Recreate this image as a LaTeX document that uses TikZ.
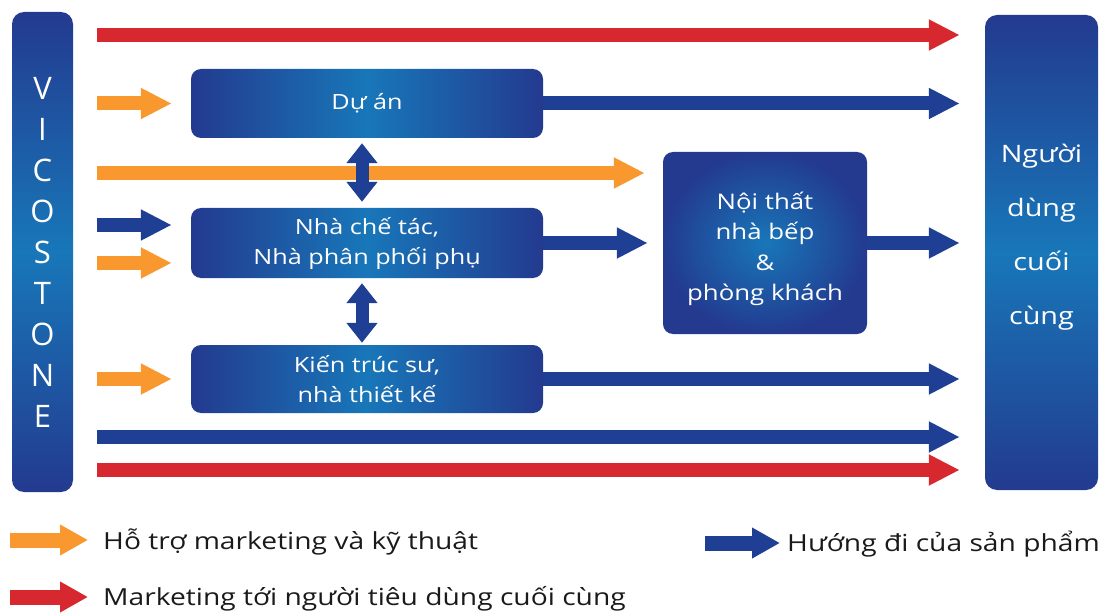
\documentclass[tikz,border=0pt]{standalone}
\usepackage{fontspec}
\setmainfont{Open Sans}
\newfontfamily\wfont[FakeStretch=1.2]{Open Sans}
\usetikzlibrary{arrows.meta}
\definecolor{bdark}{HTML}{233A8F}
\definecolor{blight}{HTML}{1877B9}
\definecolor{ablue}{HTML}{1F3F94}
\definecolor{ared}{HTML}{D8282F}
\definecolor{aorange}{HTML}{F8982F}
\definecolor{ltext}{HTML}{1A1A1A}
\tikzset{
  bar/.style={rounded corners=12pt, top color=bdark, bottom color=bdark, middle color=blight, inner sep=0pt},
  hbox/.style={rounded corners=10pt, left color=bdark, right color=bdark, middle color=blight, minimum width=352pt, inner sep=0pt, text=white, align=center, font=\wfont\fontsize{21}{30}\selectfont},
  rbox/.style={rounded corners=10pt, inner color=blight, outer color=bdark, inner sep=0pt},
  wtext/.style={text=white, align=center, inner sep=0pt},
  fa/.style={line width=14pt, -{Triangle[length=31pt,width=29pt]}},
  lga/.style={line width=15pt, -{Triangle[length=28pt,width=29pt]}},
  dbl/.style={line width=13pt, {Triangle[length=20pt,width=30pt]}-{Triangle[length=20pt,width=30pt]}},
  lgtext/.style={anchor=west, inner sep=0pt, text=ltext, font=\wfont\fontsize{23.5}{28}\selectfont}
}
\begin{document}
\begin{tikzpicture}[x=1pt,y=-1pt]
\useasboundingbox (0,0) rectangle (1104,615);
% side bars
\node[bar, minimum width=61pt, minimum height=480pt, text=white, align=center, font=\fontsize{31}{41}\selectfont] (vico) at (42.5,252) {V\\I\\C\\O\\S\\T\\O\\N\\E};
\node[bar, minimum width=113pt, minimum height=475pt] (user) at (1041.5,252.5) {};
\node[wtext, font=\wfont\fontsize{24}{54}\selectfont] (usertxt) at (1041.5,237) {Người\\dùng\\cuối\\cùng};
% boxes
\node[hbox, minimum height=69pt] (dyan) at (367,103.5) {Dự án};
\node[hbox, minimum height=70pt] (nhact) at (367,243) {Nhà chế tác,\\Nhà phân phối phụ};
\node[hbox, minimum height=68pt] (kts) at (367,379) {Kiến trúc sư,\\nhà thiết kế};
\node[rbox, minimum width=204pt, minimum height=182pt] (noithat) at (765,243) {};
\node[wtext, font=\wfont\fontsize{21.5}{30.3}\selectfont] (noithattxt) at (765,249) {Nội thất\\nhà bếp\\\&\\phòng khách};
% helper coordinates
\coordinate (L) at ([xshift=24pt]vico.east);
\coordinate (R) at ([xshift=-25pt]user.west);
\coordinate (Tin) at ([xshift=-19pt]dyan.west);
\coordinate (Tnt) at ([xshift=-18pt]noithat.west);
\coordinate (Tnt2) at ([xshift=-15pt]noithat.west);
\coordinate (rA) at (0,35);
\coordinate (rB) at (0,173);
\coordinate (rC) at (0,225);
\coordinate (rD) at (0,263);
\coordinate (rE) at (0,437);
\coordinate (rF) at (0,470);
% arrows
\draw[fa, ared] (L |- rA) -- (R |- rA);
\draw[fa, aorange] (L |- dyan.west) -- (Tin |- dyan.west);
\draw[fa, ablue] (dyan.east) -- (R |- dyan.east);
\draw[fa, aorange] (L |- rB) -- (Tnt |- rB);
\draw[fa, ablue] (L |- rC) -- (Tin |- rC);
\draw[fa, aorange] (L |- rD) -- (Tin |- rD);
\draw[fa, ablue] (nhact.east) -- (Tnt2 |- nhact.east);
\draw[fa, ablue] (noithat.east) -- (R |- noithat.east);
\draw[fa, aorange] (L |- kts.west) -- (Tin |- kts.west);
\draw[fa, ablue] (kts.east) -- (R |- kts.east);
\draw[fa, ablue] (L |- rE) -- (R |- rE);
\draw[fa, ared] (L |- rF) -- (R |- rF);
\draw[dbl, ablue] ([xshift=-5pt,yshift=-5pt]dyan.south) -- ([xshift=-5pt,yshift=6pt]nhact.north);
\draw[dbl, ablue] ([xshift=-5pt,yshift=-5pt]nhact.south) -- ([xshift=-5pt,yshift=2pt]kts.north);
% legend
\coordinate (lgOa) at (10,540);
\coordinate (lgOb) at (88,540);
\coordinate (lgRa) at (10,597);
\coordinate (lgRb) at (88,597);
\coordinate (lgBa) at (705,543);
\coordinate (lgBb) at (780,543);
\draw[lga, aorange] (lgOa) -- (lgOb);
\draw[lga, ared] (lgRa) -- (lgRb);
\draw[lga, ablue] (lgBa) -- (lgBb);
\node[lgtext] (lgO) at (103,542) {Hỗ trợ marketing và kỹ thuật};
\node[lgtext] (lgR) at (103,599) {Marketing tới người tiêu dùng cuối cùng};
\node[lgtext] (lgB) at (787,544) {Hướng đi của sản phẩm};
\end{tikzpicture}
\end{document}
